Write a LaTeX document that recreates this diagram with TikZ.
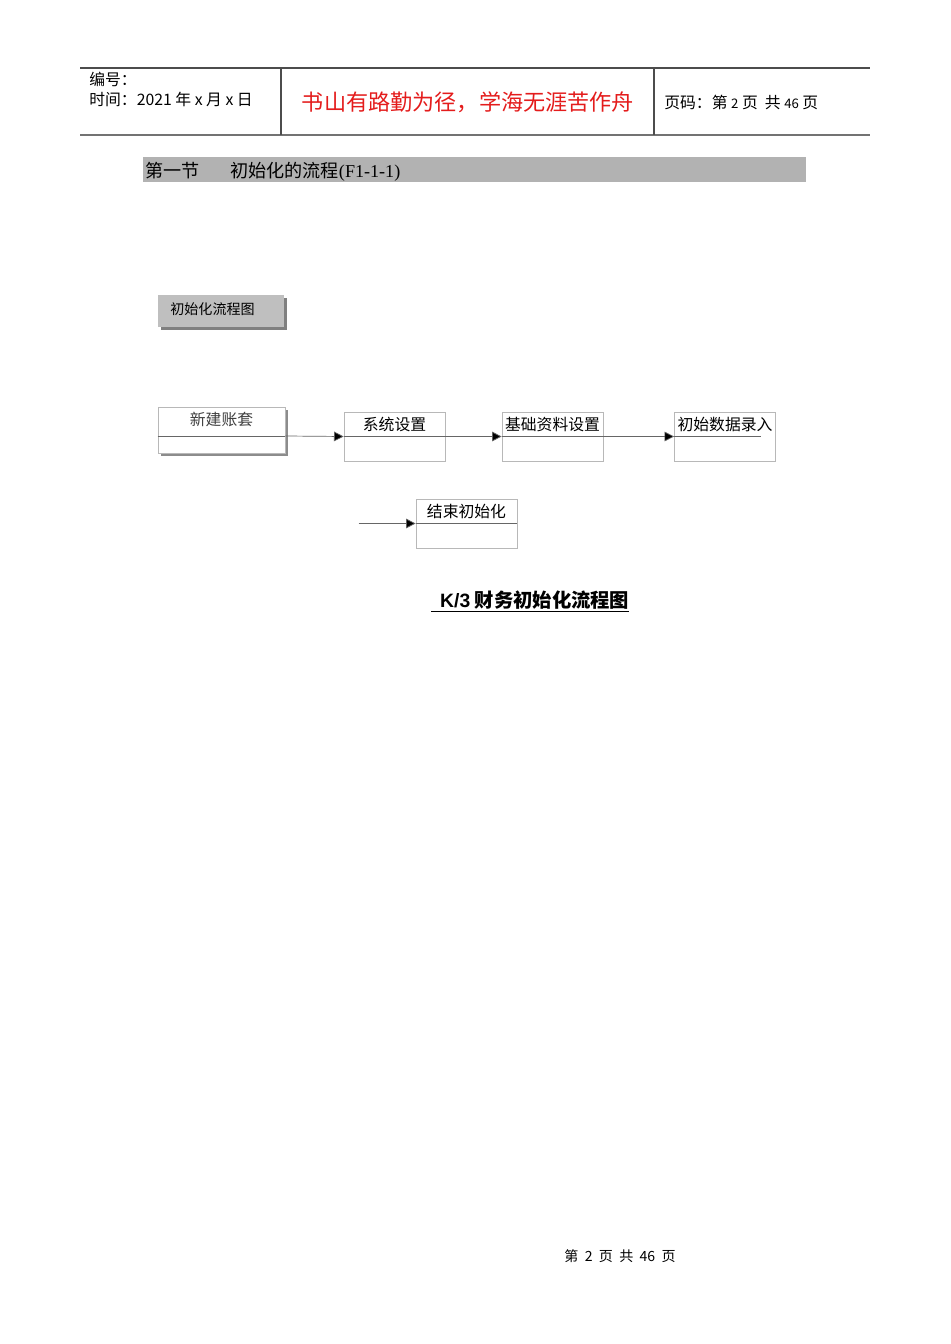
\documentclass[tikz,border=0pt]{standalone}
\usepackage{fontspec}
\setmainfont{Noto Sans CJK SC}
\newfontfamily\latinserif{Liberation Serif}
\newfontfamily\latinsans{Liberation Sans}
\usetikzlibrary{arrows.meta,shadows,positioning}
\definecolor{boxline}{gray}{0.72}
\definecolor{flowgray}{gray}{0.40}
\definecolor{barfill}{gray}{0.70}
\definecolor{tagfill}{gray}{0.75}
\definecolor{mottored}{RGB}{228,28,28}

\tikzset{
  headline/.style={draw=black!70,line width=0.6pt},
  flowbox/.style={draw=boxline,fill=white,minimum width=2.02cm,minimum height=0.98cm,inner sep=0pt},
  boxlabel/.style={anchor=north,inner sep=2.9pt,font=\fontsize{9pt}{10pt}\selectfont},
  flowline/.style={draw=flowgray,line width=0.4pt},
  flowarrow/.style={flowline,-{Triangle[length=5.5pt,width=5.5pt,fill=black]}},
}

\begin{document}
\begin{tikzpicture}[x=0.02cm,y=-0.02cm]
\useasboundingbox (0,0) rectangle (950,1344);
\fill[white] (0,0) rectangle (950,1344);

% page header
\draw[headline] (80,68) -- (870,68);
\draw[draw=black!55,line width=1.1pt] (80,135) -- (870,135);
\draw[headline] (281,68) -- (281,135);
\draw[headline] (654,68) -- (654,135);
\node[font=\fontsize{9pt}{10pt}\selectfont,anchor=base west,inner sep=0pt] (num) at (89,86) {编号：};
\node[font=\fontsize{9pt}{10pt}\selectfont,anchor=base west,inner sep=0pt] (date) at (89,106) {时间：2021 年 x 月 x 日};
\node[font=\fontsize{12.6pt}{14pt}\selectfont,text=mottored,anchor=base,inner sep=0pt] (motto) at (468,111) {书山有路勤为径，学海无涯苦作舟};
\node[font=\fontsize{9pt}{10pt}\selectfont,anchor=base west,inner sep=0pt] (pageno) at (664,109) {页码：第 {\fontsize{7.5pt}{9pt}\selectfont 2} 页\ \ 共 {\fontsize{7.5pt}{9pt}\selectfont 46} 页};

% section title
\fill[barfill] (143,157) rectangle (806,182);
\node[font=\fontsize{10.3pt}{12pt}\selectfont,anchor=base west,inner sep=0pt] (sec) at (145,178) {第一节\hspace{1.7em}初始化的流程{\latinserif (F1-1-1)}};

% chart tag
\node[fill=tagfill,minimum width=2.52cm,minimum height=0.64cm,inner sep=0pt,
  drop shadow={shadow xshift=1.8pt,shadow yshift=-1.8pt,fill=black!50,opacity=1}] (tag) at (221,311) {};
\node[font=\fontsize{8pt}{9pt}\selectfont,anchor=base west,inner sep=0pt] (tagtext) at (170,315) {初始化流程图};

% flow boxes
\node[flowbox,minimum width=2.54cm,minimum height=0.92cm,
  drop shadow={shadow xshift=1.8pt,shadow yshift=-1.8pt,fill=black!45,opacity=1},
  label={[boxlabel,text=black!75]north:新建账套}] (new) at (221.5,430) {};
\node[flowbox,label={[boxlabel]north:系统设置}] (sys) at (394.5,436.5) {};
\node[flowbox,label={[boxlabel]north:基础资料设置}] (base) at (552.5,436.5) {};
\node[flowbox,label={[boxlabel]north:初始数据录入}] (init) at (725,436.5) {};
\node[flowbox,label={[boxlabel]north:结束初始化}] (fin) at (466.5,523.5) {};

\coordinate (newmid) at ([yshift=-0.12cm]new.west);
\coordinate (initend) at ([xshift=1.74cm]init.west);
\coordinate (finin) at ([xshift=-1.14cm]fin.west);

% connectors
\draw[flowline] (newmid) -- (newmid -| new.east);
\draw[flowarrow] (newmid -| new.east) -- (sys.west);
\draw[flowarrow] (sys.west) -- (base.west);
\draw[flowarrow] (base.west) -- (init.west);
\draw[flowline] (init.west) -- (initend);
\draw[flowarrow] (finin) -- (fin.west);
\draw[flowline] (fin.west) -- (fin.east);

% caption
\node[font=\fontsize{11pt}{12pt}\selectfont\bfseries,anchor=base west,inner sep=0pt] (caption) at (431,607)
  {\underline{\ \ {\latinsans\bfseries K/3} 财务初始化流程图}};

% page footer
\node[font=\fontsize{8pt}{9pt}\selectfont,anchor=base,inner sep=0pt] (foot) at (620,1261) {第\ \ 2\ \ 页\ \ 共\ \ 46\ \ 页};
\end{tikzpicture}
\end{document}
